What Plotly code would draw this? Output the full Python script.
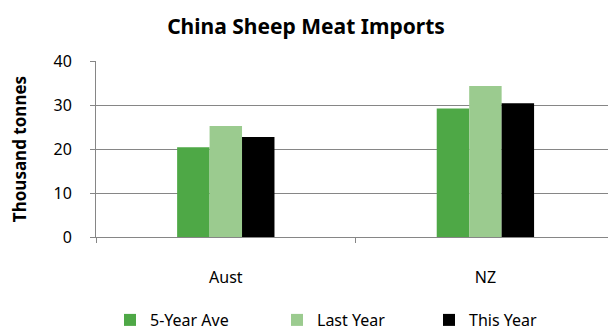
import plotly.graph_objects as go

categories = ["Aust", "NZ"]
five_year_ave = [20.4, 29.2]
last_year = [25.2, 34.3]
this_year = [22.7, 30.4]
series_names = ["5-Year Ave", "Last Year", "This Year"]
colors = ["#4EA846", "#9BCB8F", "#000000"]
y_ticks = [0, 10, 20, 30, 40]

FONT = "Noto Sans"
fig = go.Figure()
legends = ["legend", "legend2", "legend3"]
for name, vals, col, lg in zip(series_names, [five_year_ave, last_year, this_year], colors, legends):
    fig.add_trace(go.Bar(x=categories, y=vals, name=name, marker=dict(color=col, line=dict(width=0)),
                         legend=lg, showlegend=True))

W, H = 608, 331
ml, mr, mt, mb = 96, 0, 61, 94
pw, ph = W - ml - mr, H - mt - mb

def px_to_paper_x(px):
    return (px - ml) / pw

def py_to_paper_y(py):
    return (H - mb - py) / ph

leg_common = dict(orientation="h", font=dict(family=FONT, size=16, color="#000"),
                  bgcolor="rgba(0,0,0,0)", itemwidth=30, yanchor="middle", xanchor="left",
                  y=py_to_paper_y(320))

fig.update_layout(
    width=W, height=H,
    margin=dict(l=ml, r=mr, t=mt, b=mb, autoexpand=False),
    paper_bgcolor="white", plot_bgcolor="white",
    barmode="group", bargap=0.625, bargroupgap=0,
    font=dict(family=FONT, size=16, color="#000"),
    title=dict(text="<b>China Sheep Meat Imports</b>", x=306 / W, xanchor="center",
               y=1 - 27 / H, yanchor="middle", font=dict(family=FONT, size=21, color="#000")),
    xaxis=dict(range=[-0.5, -0.5 + pw / 259.6], showline=True, linecolor="#868686", linewidth=1,
               ticks="outside", tickson="boundaries", ticklen=5, tickcolor="#868686",
               showgrid=False, tickfont=dict(family=FONT, size=16), ticklabelstandoff=26),
    yaxis=dict(range=[0, 40], tickvals=y_ticks, showline=True, linecolor="#868686", linewidth=1,
               ticks="outside", ticklen=5, tickcolor="#868686", showgrid=True,
               gridcolor="#868686", gridwidth=1, zeroline=False,
               tickfont=dict(family=FONT, size=16), ticklabelstandoff=15,
               title=dict(text="<b>Thousand tonnes</b>", font=dict(family=FONT, size=17), standoff=22)),
    legend=dict(x=px_to_paper_x(110), **leg_common),
    legend2=dict(x=px_to_paper_x(277), **leg_common),
    legend3=dict(x=px_to_paper_x(429), **leg_common),
)
fig.write_html("out.html")
